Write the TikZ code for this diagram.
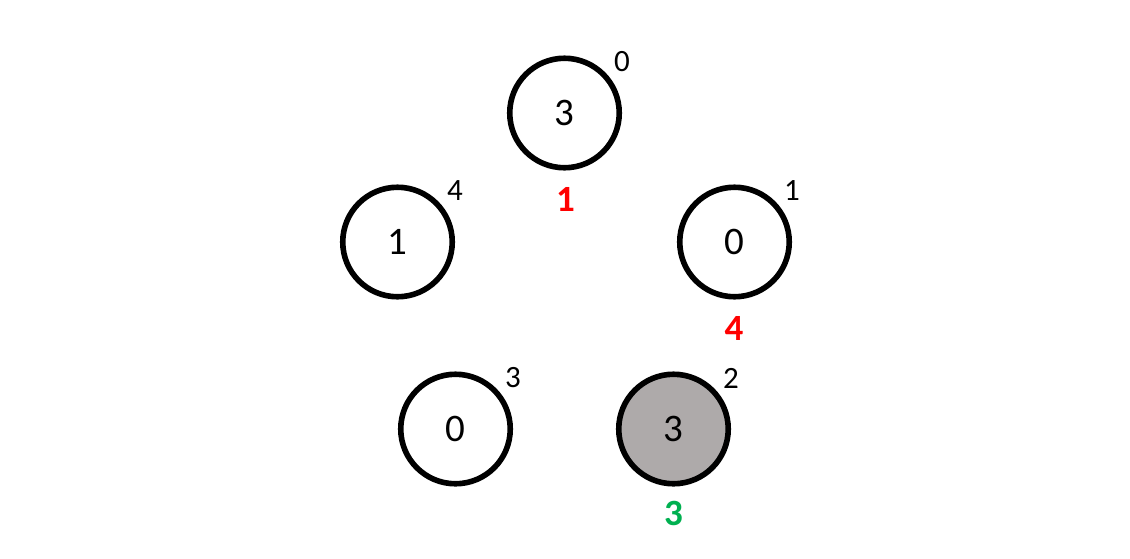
\documentclass[tikz,border=0pt]{standalone}
\usepackage{fontspec}
\setmainfont{Carlito}
\definecolor{nodegray}{HTML}{AEAAAA}
\definecolor{lblred}{HTML}{FF0000}
\definecolor{lblgreen}{HTML}{00B050}
\tikzset{
  vert/.style={circle, draw=black, line width=5.6pt, minimum size=109.5pt, inner sep=0pt, fill=white, font=\fontsize{39}{44}\selectfont},
  idx/.style={inner sep=0pt, font=\fontsize{31}{36}\selectfont},
  val/.style={inner sep=0pt, font=\fontsize{37}{42}\selectfont\bfseries},
}
\begin{document}
\begin{tikzpicture}[x=1pt,y=-1pt]
\useasboundingbox (0,0) rectangle (1130,558);
\node[vert] (v0) at (564.5,113) {3};
\node[vert] (v4) at (397.5,242) {1};
\node[vert] (v1) at (734.5,242) {0};
\node[vert] (v3) at (455.5,429) {0};
\node[vert, fill=nodegray] (v2) at (673.5,429) {3};
\node[idx] (i0) at (622,62) {0};
\node[idx] (i4) at (455,191) {4};
\node[idx] (i1) at (792,191) {1};
\node[idx] (i3) at (513,378) {3};
\node[idx] (i2) at (731,378) {2};
\node[val, text=lblred] (l0) at (565.5,199) {1};
\node[val, text=lblred] (l1) at (734,328) {4};
\node[val, text=lblgreen] (l2) at (673.5,513) {3};
\end{tikzpicture}
\end{document}
